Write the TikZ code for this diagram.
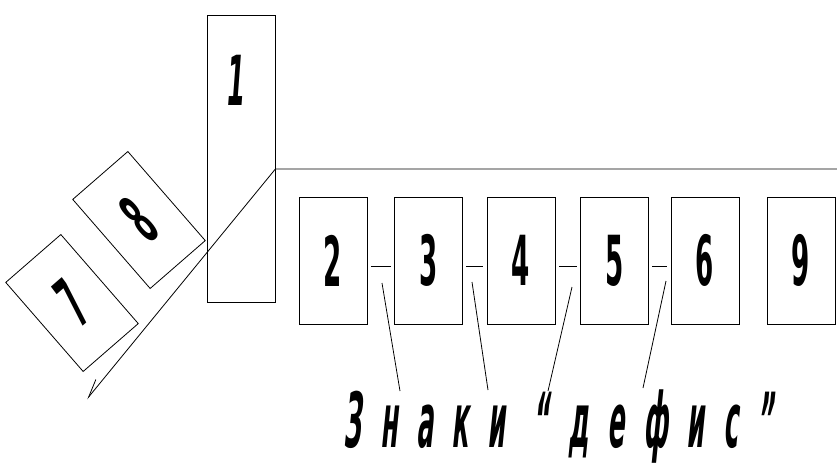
\documentclass[tikz,border=0pt]{standalone}
\usepackage{fontspec}
\setmainfont{DejaVu Sans}
\newfontfamily\spacedfont[LetterSpace=75]{DejaVu Sans}
\usetikzlibrary{arrows.meta}

\newcommand{\numtext}[1]{\scalebox{0.38}[1]{\fontsize{69}{71}\selectfont\bfseries #1}}

\begin{document}
\begin{tikzpicture}[x=1pt, y=-1pt, line width=0.8pt,
    numbox/.style={draw, minimum width=68pt, minimum height=127pt, inner sep=0pt},
    tiltbox/.style={draw, minimum width=73pt, minimum height=118pt, inner sep=0pt, rotate=41},
    hyphen/.style={shorten <=3.5pt, shorten >=3.5pt}]
            \useasboundingbox (0,0) rectangle (837,468);

            \node[draw, minimum width=68pt, minimum height=287pt, inner sep=0pt] (b1) at (241,158.5) {};
            \node (n1) at (237,80) {\numtext{\itshape 1}};

            \node[tiltbox] (b8) at (139,220) {\numtext{8}};
            \node[tiltbox] (b7) at (72,303) {\numtext{\itshape 7}};

            \node[numbox] (b2) at (333,260.5) {\numtext{2}};
            \node[numbox] (b3) at (428.5,260.5) {\numtext{3}};
            \node[numbox] (b4) at (521,260.5) {\numtext{4}};
            \node[numbox] (b5) at (614.5,260.5) {\numtext{5}};
            \node[numbox] (b6) at (705,260.5) {\numtext{6}};
            \node[numbox] (b9) at (801,260.5) {\numtext{9}};

            \coordinate (bend) at ([yshift=-10.5pt]b1.east);
            \coordinate (far) at (837,169);
            \coordinate (tip) at (87,399);
            \draw[-{Straight Barb[harpoon, swap, length=18pt, width=11pt]}] (far) -- (bend) -- (tip);

            \draw[hyphen] ([yshift=-5.5pt]b2.east) -- ([yshift=-5.5pt]b3.west);
            \draw[hyphen] ([yshift=-5.5pt]b3.east) -- ([yshift=-5.5pt]b4.west);
            \draw[hyphen] ([yshift=-5.5pt]b4.east) -- ([yshift=-5.5pt]b5.west);
            \draw[hyphen] ([yshift=-5.5pt]b5.east) -- ([yshift=-5.5pt]b6.west);

            \node[anchor=base west, inner sep=0pt, xslant=0.1] (caption) at (343,447)
                {\scalebox{0.33}[1]{\spacedfont\bfseries\fontsize{76}{78}\selectfont Знаки “дефис”}};

            \coordinate (p1) at (382,283);
            \coordinate (q1) at (400,391);
            \coordinate (p2) at (472,282);
            \coordinate (q2) at (488,390);
            \coordinate (p3) at (572,287);
            \coordinate (q3) at (548,391);
            \coordinate (p4) at (666,281);
            \coordinate (q4) at (643,388);
            \draw (p1) -- (q1);
            \draw (p2) -- (q2);
            \draw (p3) -- (q3);
            \draw (p4) -- (q4);
        \end{tikzpicture}
\end{document}
